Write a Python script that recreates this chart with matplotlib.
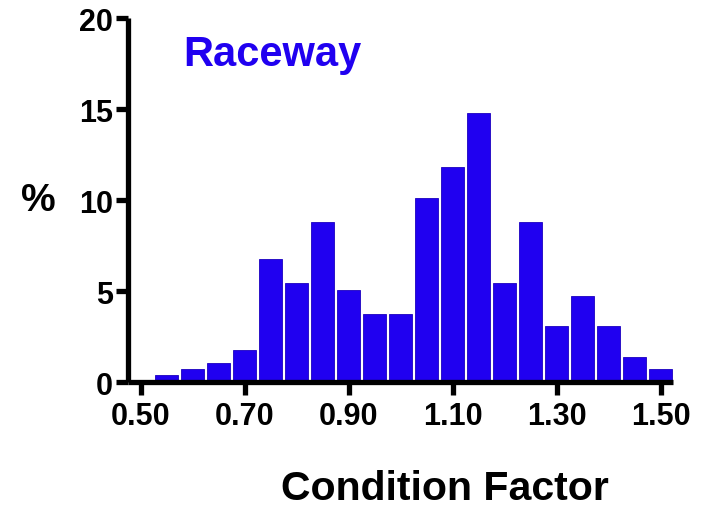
import matplotlib
matplotlib.use('Agg')
import matplotlib.pyplot as plt

plt.rcParams['font.family'] = 'Liberation Sans'
plt.rcParams['font.weight'] = 'bold'

bin_centers = [0.55, 0.60, 0.65, 0.70, 0.75, 0.80, 0.85, 0.90, 0.95, 1.00,
               1.05, 1.10, 1.15, 1.20, 1.25, 1.30, 1.35, 1.40, 1.45, 1.50]
percent = [0.41, 0.73, 1.07, 1.74, 6.76, 5.42, 8.78, 5.07, 3.72, 3.72,
           10.11, 11.80, 14.80, 5.42, 8.78, 3.06, 4.73, 3.06, 1.40, 0.73]
x_ticks = [0.50, 0.70, 0.90, 1.10, 1.30, 1.50]
y_ticks = [0, 5, 10, 15, 20]

bar_color = '#2000F0'

fig = plt.figure(figsize=(7.05, 5.1), dpi=100)
ax = fig.add_axes([0.1816, 0.249, 0.773, 0.7137])

ax.bar(bin_centers, percent, width=0.044, color=bar_color,
       edgecolor='#1a00c0', linewidth=0.6)

ax.set_xlim(0.476, 1.524)
ax.set_ylim(0, 20)
ax.set_xticks(x_ticks)
ax.set_xticklabels(['%.2f' % t for t in x_ticks])
ax.set_yticks(y_ticks)

for side in ['top', 'right']:
    ax.spines[side].set_visible(False)
for side in ['left', 'bottom']:
    ax.spines[side].set_linewidth(3.8)
    ax.spines[side].set_capstyle('butt')

ax.tick_params(axis='both', width=3.8, length=9, labelsize=22, pad=2)
ax.tick_params(axis='x', pad=5)
for lab in ax.get_xticklabels() + ax.get_yticklabels():
    lab.set_fontweight('bold')

ax.set_xlabel('Condition Factor', fontsize=29.5, fontweight='bold')
ax.xaxis.set_label_coords(0.582, -0.24)
ax.set_ylabel('%', fontsize=28, fontweight='bold', rotation=0, va='center', ha='center')
ax.yaxis.set_label_coords(-0.165, 0.50)

ax.text(0.101, 0.90, 'Raceway', transform=ax.transAxes, fontsize=30,
        fontweight='bold', color=bar_color, ha='left', va='center')

fig.savefig('out.png', dpi=100)
